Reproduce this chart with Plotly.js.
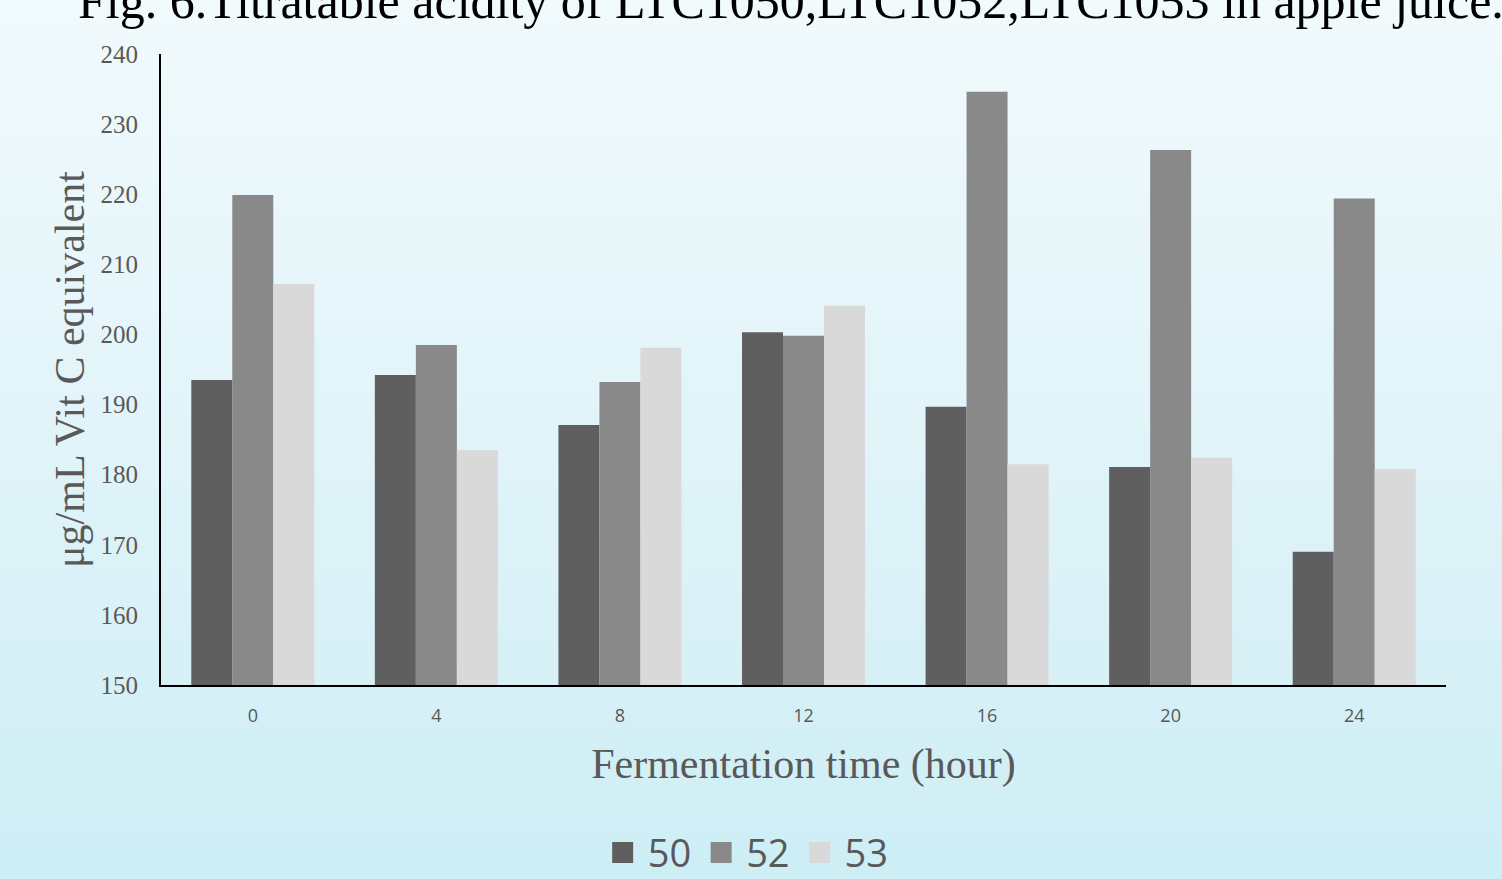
<!DOCTYPE html>
<html>
<head>
<meta charset="utf-8">
<script src="https://cdn.plot.ly/plotly-3.0.1.min.js"></script>
<style>
html, body { margin: 0; padding: 0; }
body { width: 1502px; height: 879px; overflow: hidden;
  background: linear-gradient(180deg, #f1fafc 0%, #e6f6fa 35%, #d9f1f7 70%, #cdeef5 100%); }
#chart { width: 1502px; height: 879px; }
</style>
</head>
<body>
<div id="chart"></div>
<script>
const categories = ["0", "4", "8", "12", "16", "20", "24"];
const seriesNames = ["50", "52", "53"];
const values50 = [193.5, 194.2, 187.1, 200.3, 189.7, 181.1, 169.0];
const values52 = [219.9, 198.5, 193.2, 199.8, 234.6, 226.3, 219.4];
const values53 = [207.2, 183.5, 198.1, 204.1, 181.5, 182.4, 180.8];
const yTicks = [150, 160, 170, 180, 190, 200, 210, 220, 230, 240];
const colors = ["#5f5f5f", "#898989", "#d9d9d9"];

const allValues = [values50, values52, values53];
const traces = allValues.map((v, i) => ({
  type: "bar",
  name: seriesNames[i],
  x: categories,
  y: v,
  marker: { color: colors[i], line: { width: 0 } },
  showlegend: false,
  hoverinfo: "x+y"
}));
// legend entries with larger square swatches
seriesNames.forEach((n, i) => {
  traces.push({
    type: "scatter", mode: "markers", name: n,
    x: [null], y: [null],
    marker: { symbol: "square", size: 16, color: colors[i], line: { width: 5, color: colors[i] } },
    showlegend: true
  });
});

const layout = {
  width: 1502, height: 879,
  paper_bgcolor: "rgba(0,0,0,0)",
  plot_bgcolor: "rgba(0,0,0,0)",
  margin: { l: 161, r: 56, t: 54, b: 194, autoexpand: false },
  barmode: "group",
  bargap: 0.33,
  bargroupgap: 0,
  showlegend: true,
  legend: {
    orientation: "h", x: 0.455, xanchor: "center", y: -0.266, yanchor: "middle",
    font: { family: "Open Sans, sans-serif", size: 38, color: "#595959" },
    itemsizing: "trace", itemwidth: 40, traceorder: "normal",
    bgcolor: "rgba(0,0,0,0)"
  },
  xaxis: {
    type: "category",
    showline: true, linecolor: "#000000", linewidth: 2,
    showgrid: false, zeroline: false,
    ticks: "outside", ticklen: 13, tickcolor: "rgba(0,0,0,0)",
    tickfont: { family: "Open Sans, sans-serif", size: 18, color: "#595959" },
    title: { text: "Fermentation time (hour)", standoff: 23,
      font: { family: "Liberation Serif, serif", size: 42, color: "#595959" } }
  },
  yaxis: {
    range: [150, 240],
    tickvals: yTicks, ticktext: yTicks.map(String),
    showline: true, linecolor: "#000000", linewidth: 2,
    showgrid: false, zeroline: false,
    ticks: "outside", ticklen: 16, tickcolor: "rgba(0,0,0,0)",
    tickfont: { family: "Liberation Serif, serif", size: 25, color: "#595959" },
    title: { text: "μg/mL Vit C equivalent", standoff: 3,
      font: { family: "Liberation Serif, serif", size: 42, color: "#595959" } }
  },
  annotations: [{
    text: "Fig. 6.Titratable acidity of LTC1050,LTC1052,LTC1053 in apple juice.",
    xref: "paper", yref: "paper", x: 0.49, y: 1.036, xanchor: "center", yanchor: "bottom",
    showarrow: false,
    font: { family: "Liberation Serif, serif", size: 50, color: "#000000" }
  }]
};

Plotly.newPlot("chart", traces, layout, { displayModeBar: false, staticPlot: true });
</script>
</body>
</html>
